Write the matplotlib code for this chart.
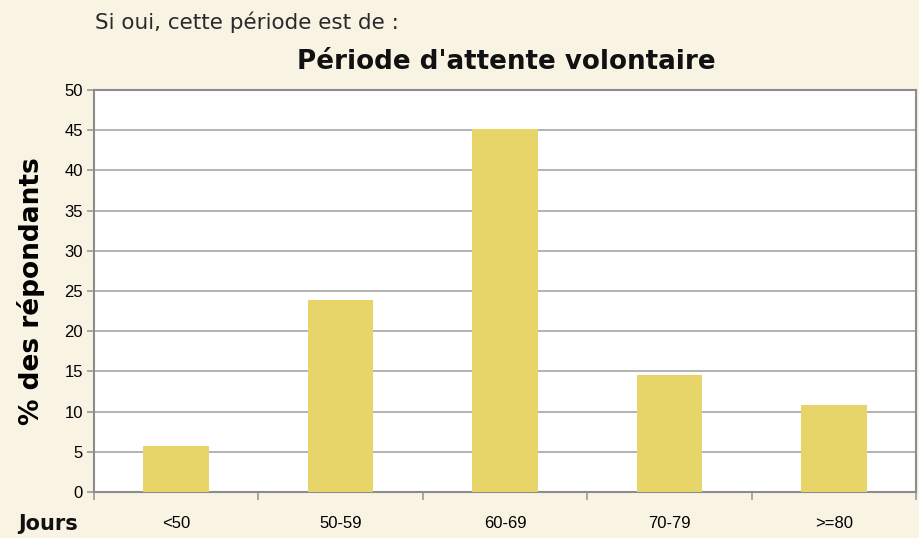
import matplotlib.pyplot as plt
import numpy as np

categories = ['<50', '50-59', '60-69', '70-79', '>=80']
values = [5.7, 23.9, 45.1, 14.5, 10.8]
yticks = [0, 5, 10, 15, 20, 25, 30, 35, 40, 45, 50]

bg = '#f9f3e4'
bar_color = '#e8d56a'
grid_color = '#a6a6a6'

fig = plt.figure(figsize=(9.19, 5.38), dpi=100, facecolor=bg)
ax = fig.add_axes([94/919, 1-492/538, 822/919, 402/538])
ax.set_facecolor('white')

x = np.arange(len(categories))
ax.bar(x, values, width=0.4, color=bar_color, zorder=3)

ax.set_xlim(-0.5, len(categories)-0.5)
ax.set_ylim(0, 50)
ax.set_yticks(yticks)
ax.set_yticklabels([str(t) for t in yticks], fontsize=12, family='Liberation Sans')
ax.yaxis.grid(True, color=grid_color, linewidth=1.2, zorder=0)

# category ticks on boundaries, labels centred
ax.set_xticks(np.arange(-0.5, len(categories)), minor=False)
ax.set_xticklabels([''] * (len(categories)+1))
ax.set_xticks(x, minor=True)
ax.set_xticklabels(categories, minor=True, fontsize=12, family='Liberation Sans')
ax.tick_params(axis='x', which='minor', length=0, pad=17)
ax.tick_params(axis='x', which='major', length=6, color='#999999', width=1.2)
ax.tick_params(axis='y', length=5, color='#999999', width=1.2, pad=3)

for s in ax.spines.values():
    s.set_color('#8c8c8c')
    s.set_linewidth(1.5)

ax.set_ylabel('% des répondants', fontsize=19, fontweight='bold', family='DejaVu Sans', labelpad=14)

fig.text(95/919, 1-22/538, 'Si oui, cette période est de :', fontsize=15.5, family='DejaVu Sans',
         color='#2a2a2a', va='center', ha='left')
fig.text(506/919, 1-62/538, "Période d'attente volontaire", fontsize=18.8, fontweight='bold',
         family='DejaVu Sans', va='center', ha='center', color='#111111')
fig.text(18/919, 1-524/538, 'Jours', fontsize=15, fontweight='bold', family='DejaVu Sans',
         va='center', ha='left', color='#111111')

fig.savefig('out.png', dpi=100, facecolor=bg)
